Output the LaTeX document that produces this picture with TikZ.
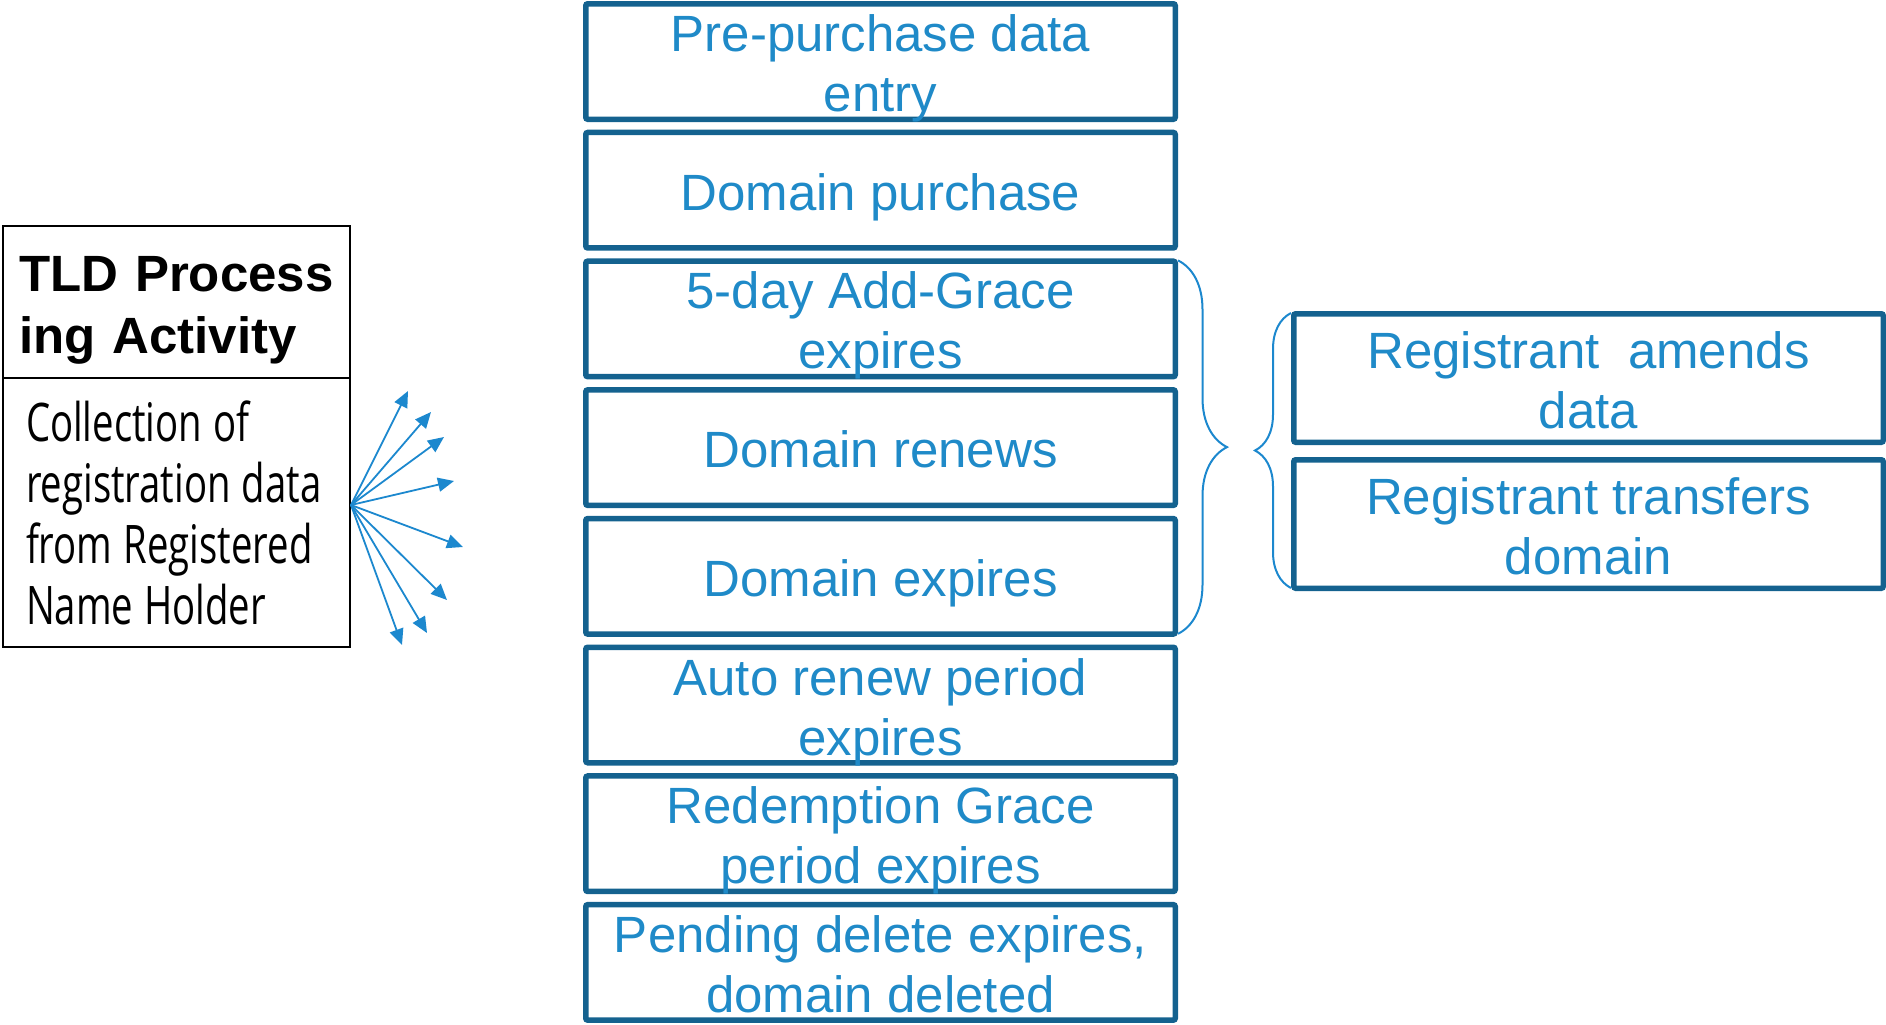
\documentclass[tikz,border=0pt]{standalone}
\usepackage{fontspec}
\setmainfont{Liberation Sans}
\newfontfamily\condfont[FakeStretch=0.72]{Open Sans}
\usetikzlibrary{arrows.meta,decorations.pathreplacing}

\definecolor{stepblue}{HTML}{14628F}
\definecolor{textblue}{HTML}{1F8AC8}
\definecolor{lineblue}{HTML}{1C88CE}

% one line of box text with a fixed height and depth
\newcommand{\tline}[1]{\rule[-2.5pt]{0pt}{25pt}\smash{#1}}

\tikzset{
  stepbox/.style={draw=stepblue, line width=2.75pt, rounded corners=1pt, rectangle, text=textblue, align=center,
    inner sep=0pt, minimum width=294.75pt, minimum height=57.75pt, font=\fontsize{25.5}{30}\selectfont},
  sidebox/.style={stepbox, minimum height=64.25pt},
  headbox/.style={draw=black, line width=0.6pt, rectangle, inner xsep=8pt, inner ysep=0pt,
    text width=157.5pt, align=left, minimum height=76pt, font=\fontsize{25.5}{31}\selectfont\bfseries},
  notebox/.style={headbox, inner xsep=11.5pt, text width=150.5pt, minimum height=134.5pt,
    font=\fontsize{26.6}{30.5}\condfont, execute at begin node={\spaceskip=5.5pt\relax}},
  spoke/.style={draw=lineblue, line width=0.9pt, -{Triangle[length=8pt,width=7pt]}},
  groupbrace/.style={draw=lineblue, line width=1pt, decorate, decoration={brace, amplitude=#1}},
}

\begin{document}
\begin{tikzpicture}[x=0.5pt, y=-0.5pt]
\useasboundingbox (0,0) rectangle (1886,1024);

% processing activity
\node[headbox] (tld) at (176.5,302) {\tline{TLD Process}\\\tline{ing Activity}};
\node[notebox] (collect) at (176.5,512.5) {\tline{Collection of}\\\tline{registration data}\\\tline{from Registered}\\\tline{Name Holder}};

% lifecycle steps
\node[stepbox] (entry) at (880.5,61.5) {\tline{Pre-purchase data}\\\tline{entry}};
\node[stepbox] (purchase) at (880.5,190.2) {\tline{Domain purchase}};
\node[stepbox] (grace) at (880.5,318.9) {\tline{5-day Add-Grace}\\\tline{expires}};
\node[stepbox] (renews) at (880.5,447.6) {\tline{Domain renews}};
\node[stepbox] (expires) at (880.5,576.3) {\tline{Domain expires}};
\node[stepbox] (autorenew) at (880.5,705) {\tline{Auto renew period}\\\tline{expires}};
\node[stepbox] (redemption) at (880.5,833.7) {\tline{Redemption Grace}\\\tline{period expires}};
\node[stepbox] (pending) at (880.5,962.4) {\tline{Pending delete expires,}\\\tline{domain deleted}};

% registrant actions
\node[sidebox] (amends) at (1588.5,378) {\tline{Registrant\ \ amends}\\\tline{data}};
\node[sidebox] (transfers) at (1588.5,524) {\tline{Registrant transfers}\\\tline{domain}};

% fan of arrows
\coordinate (hub) at (351,505);
\foreach \tx/\ty [count=\i] in {408/391, 431/412, 444/437, 454/481, 463/547, 447/600, 427/633, 402/645}{
  \coordinate (tip\i) at (\tx,\ty);
  \draw[spoke] (hub) -- (tip\i);
}

% braces
\draw[groupbrace=24.5pt] ([yshift=-1pt]grace.north east) -- ([yshift=1.5pt]expires.south east);
\draw[groupbrace=18pt] ([yshift=1.5pt]transfers.south west) -- ([yshift=-1pt]amends.north west);
\end{tikzpicture}
\end{document}
